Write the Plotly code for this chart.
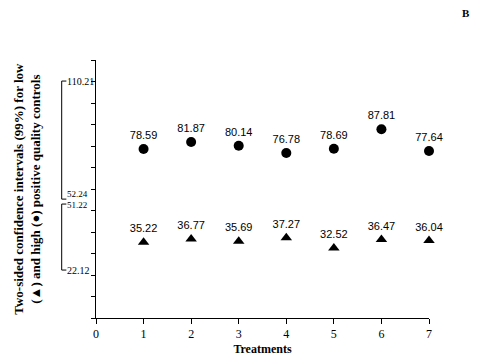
import plotly.graph_objects as go

treatments = [1, 2, 3, 4, 5, 6, 7]
high_controls = [78.59, 81.87, 80.14, 76.78, 78.69, 87.81, 77.64]
low_controls = [35.22, 36.77, 35.69, 37.27, 32.52, 36.47, 36.04]
x_ticks = [0, 1, 2, 3, 4, 5, 6, 7]
# confidence-interval brackets: labels and bracket end positions
high_ci = [110.21, 52.24]
low_ci = [51.22, 22.12]
high_bracket_y = [110.21, 55.3]
low_bracket_y = [53.0, 22.3]

serif = "Liberation Serif"
sans = "Liberation Sans"

fig = go.Figure()
fig.add_trace(go.Scatter(
    x=treatments, y=high_controls, mode="markers+text",
    text=[f"{v:.2f}" for v in high_controls], textposition="top center",
    textfont=dict(family=sans, size=11, color="black"),
    marker=dict(symbol="circle", size=10, color="black"),
    cliponaxis=False, showlegend=False))
fig.add_trace(go.Scatter(
    x=treatments, y=low_controls, mode="markers+text",
    text=[f"{v:.2f}" for v in low_controls], textposition="top center",
    textfont=dict(family=sans, size=11, color="black"),
    marker=dict(symbol="triangle-up", size=10, color="black"),
    cliponaxis=False, showlegend=False))

bx = -0.103  # paper x of bracket line
bx2 = bx + 0.014
shapes = []
for (ytop, ybot) in [high_bracket_y, low_bracket_y]:
    shapes.append(dict(type="line", xref="paper", yref="y", x0=bx, x1=bx, y0=ytop, y1=ybot,
                       line=dict(color="black", width=1)))
    shapes.append(dict(type="line", xref="paper", yref="y", x0=bx, x1=bx2, y0=ytop, y1=ytop,
                       line=dict(color="black", width=1)))
    shapes.append(dict(type="line", xref="paper", yref="y", x0=bx, x1=bx2, y0=ybot, y1=ybot,
                       line=dict(color="black", width=1)))

annotations = []
labels = [(high_ci[0], high_bracket_y[0], 0, 10), (high_ci[1], high_bracket_y[1], 5, 9),
          (low_ci[0], low_bracket_y[0], -1, 9), (low_ci[1], low_bracket_y[1], 0, 10)]
for val, ypos, ys, fs in labels:
    annotations.append(dict(text=f"{val:.2f}", xref="paper", yref="y", x=bx2 - 0.004, y=ypos,
                            yshift=ys, xanchor="left", yanchor="middle", showarrow=False,
                            font=dict(family=serif, size=fs, color="black")))

annotations.append(dict(
    text="<b>Two-sided confidence intervals (99%) for low<br>(▲) and high (●) positive quality controls</b>",
    xref="paper", yref="paper", x=-0.208, y=0.5, textangle=-90, showarrow=False,
    xanchor="center", yanchor="middle",
    font=dict(family=serif, size=13, color="black")))
annotations.append(dict(text="<b>B</b>", xref="paper", yref="paper", x=1.111, y=1.182,
                        showarrow=False, xanchor="center", yanchor="middle",
                        font=dict(family=serif, size=11, color="black")))

# page body has an 8px default margin, so the figure is sized to fit the window
fig.update_layout(
    width=474, height=353,
    margin=dict(l=88, r=53, t=52, b=43),
    paper_bgcolor="white", plot_bgcolor="white",
    shapes=shapes, annotations=annotations,
    xaxis=dict(range=[0, 7], tickvals=x_ticks, ticktext=[str(v) for v in x_ticks],
               automargin=False,
               showline=True, linecolor="black", linewidth=1, ticks="outside",
               ticklen=5, tickcolor="black", showgrid=False, zeroline=False,
               tickfont=dict(family=serif, size=12, color="black"),
               title=dict(text="<b>Treatments</b>", standoff=4,
                          font=dict(family=serif, size=12, color="black"))),
    yaxis=dict(range=[0, 120], dtick=10, showticklabels=False, automargin=False,
               showline=True, linecolor="black", linewidth=1, ticks="outside",
               ticklen=4, tickcolor="black", showgrid=False, zeroline=False),
)
fig.write_html("out.html")
